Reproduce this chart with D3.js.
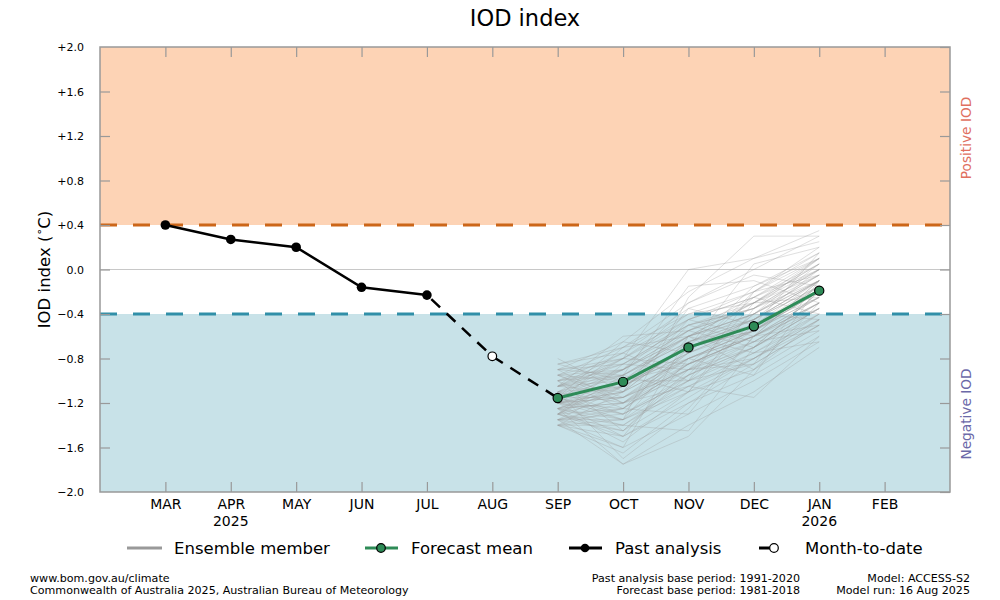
<!DOCTYPE html>
<html><head><meta charset="utf-8">
<script src="https://cdn.jsdelivr.net/npm/d3@7"></script>
<style>body{margin:0;background:#fff}svg{font-family:"DejaVu Sans",sans-serif}</style>
</head><body><svg id="c" width="1000" height="600"></svg>
<script>
// month slots: index 0 = FEB 2025 ... 13 = MAR 2026
const monthLabels = ["MAR","APR","MAY","JUN","JUL","AUG","SEP","OCT","NOV","DEC","JAN","FEB"];
const monthIdx = [1,2,3,4,5,6,7,8,9,10,11,12];
const yearLabels = [{i:2, t:"2025"},{i:11, t:"2026"}];
const yTicks = [2.0,1.6,1.2,0.8,0.4,0.0,-0.4,-0.8,-1.2,-1.6,-2.0];

const pastIdx = [1,2,3,4,5];
const pastVals = [0.40,0.27,0.20,-0.16,-0.23];
const mtdIdx = 6;
const mtdVal = -0.78;
const fcIdx = [7,8,9,10,11];
const fcVals = [-1.155,-1.01,-0.70,-0.51,-0.19];

const ensemble = [
[-1.05,-0.90,-0.55,-0.30,0.05],[-1.20,-1.10,-0.80,-0.60,-0.30],[-0.85,-0.70,-0.30,0.00,0.30],
[-1.35,-1.45,-1.10,-0.90,-0.55],[-1.10,-0.95,-0.60,-0.45,-0.10],[-1.25,-1.20,-0.95,-0.70,-0.40],
[-0.95,-0.80,-0.40,-0.20,0.10],[-1.40,-1.60,-1.30,-1.00,-0.65],[-1.15,-1.00,-0.70,-0.55,-0.20],
[-1.30,-1.25,-0.85,-0.60,-0.25],[-0.90,-0.65,-0.20,0.10,0.35],[-1.20,-1.30,-1.00,-0.75,-0.45],
[-1.05,-0.85,-0.50,-0.35,-0.05],[-1.30,-1.50,-1.20,-0.85,-0.50],[-1.10,-1.05,-0.75,-0.50,-0.15],
[-1.00,-0.75,-0.35,-0.15,0.15],[-1.35,-1.35,-0.95,-0.65,-0.30],[-1.20,-1.15,-0.90,-0.70,-0.35],
[-0.95,-0.90,-0.60,-0.40,-0.05],[-1.25,-1.75,-1.40,-1.10,-0.70],[-1.15,-0.95,-0.65,-0.40,-0.10],
[-1.05,-1.00,-0.80,-0.55,-0.25],[-1.40,-1.40,-1.05,-0.80,-0.45],[-0.85,-0.75,-0.45,-0.25,0.00],
[-1.20,-1.05,-0.70,-0.45,-0.15],[-1.30,-1.15,-0.75,-0.55,-0.20],[-1.10,-1.20,-0.90,-0.65,-0.35],
[-1.00,-0.85,-0.55,-0.35,-0.10],[-1.35,-1.30,-1.00,-0.70,-0.35],[-1.15,-0.90,-0.45,-0.25,0.10],
[-1.25,-1.10,-0.65,-0.50,-0.20],[-0.95,-0.70,-0.40,-0.30,0.05],[-1.20,-1.25,-0.85,-0.60,-0.30],
[-1.40,-1.50,-1.15,-0.80,-0.40],[-1.05,-1.10,-0.80,-0.60,-0.25],[-1.30,-1.00,-0.60,-0.40,-0.05],
[-1.10,-0.80,0.00,0.10,0.25],[-1.20,-1.35,-1.05,-0.75,-0.40],[-0.90,-0.85,-0.50,-0.30,-0.05],
[-1.25,-1.20,-0.80,-0.55,-0.15],[-1.15,-1.05,-0.70,-0.50,-0.20],[-1.35,-1.25,-0.90,-0.55,-0.15],
[-1.00,-0.95,-0.65,-0.45,-0.10],[-1.20,-1.00,-0.55,-0.35,0.00],[-1.30,-1.40,-1.00,-0.85,-0.50],
[-1.05,-0.80,-0.45,-0.20,0.20],[-1.15,-1.15,-0.85,-0.65,-0.30],[-1.25,-1.05,-0.75,-0.50,-0.10],
[-0.95,-1.00,-0.70,-0.55,-0.20],[-1.40,-1.65,-1.20,-0.95,-0.60],[-1.10,-0.90,-0.60,-0.40,-0.10],
[-1.20,-1.10,-0.65,-0.45,-0.15],[-1.35,-1.20,-0.85,-0.60,-0.30],[-1.00,-0.90,-0.55,-0.25,0.05],
[-1.15,-1.30,-0.95,-0.70,-0.35],[-1.30,-1.05,-0.70,-0.45,-0.10],[-0.90,-0.80,-0.50,-0.35,0.00],
[-1.25,-1.35,-1.10,-0.80,-0.45],[-1.05,-0.95,-0.60,-0.30,0.10],[-1.20,-1.15,-0.80,-0.55,-0.25],
[-1.00,-1.45,-0.90,-0.40,0.05],[-1.30,-0.85,-0.90,-0.80,-0.50],[-0.80,-1.10,-0.45,-0.60,-0.10],
[-1.35,-1.60,-0.60,-0.30,0.00],[-1.15,-0.65,-0.75,-0.25,-0.40],[-1.25,-1.40,-1.45,-0.70,-0.20],
[-0.95,-1.20,-1.05,-1.15,-0.60],[-1.40,-1.10,-0.35,-0.50,-0.25],[-1.05,-0.75,-1.00,-0.20,0.15],
[-1.20,-1.50,-0.80,-0.95,-0.15],[-0.90,-0.95,-0.15,-0.10,-0.30],[-1.30,-0.95,-1.10,-0.35,0.10],
[-1.10,-1.70,-1.25,-0.60,-0.35],[-1.35,-1.05,-0.50,-0.65,-0.55],[-1.00,-1.25,-0.70,0.05,0.20],
[-1.20,-0.70,-0.60,-0.90,-0.45],[-1.25,-1.55,-1.10,-0.45,0.00],[-0.85,-1.00,-0.85,-0.40,-0.45],
[-1.15,-1.35,-0.25,0.30,0.30],[-1.40,-1.25,-1.30,-0.60,-0.10],[-1.05,-0.60,-0.55,-0.70,-0.20],
[-1.30,-1.45,-0.95,-0.30,-0.25],[-0.95,-1.15,-0.90,-0.85,-0.10],[-1.20,-0.90,-0.30,-0.05,-0.15],
[-1.35,-1.75,-1.50,-0.90,-0.30],[-1.10,-1.30,-0.60,-0.75,-0.65],[-1.25,-1.00,-1.00,-0.50,0.15],
[-0.90,-1.20,-0.75,-0.20,-0.05],[-1.15,-0.80,-0.85,-0.60,-0.50],[-1.40,-1.35,-0.70,-0.15,0.10]
];

const svg = d3.select("#c");
const L=100,R=950,T=47,B=492;
const x = d3.scaleLinear().domain([0,13]).range([L,R]);
const y = d3.scaleLinear().domain([-2,2]).range([B,T]);

// bands
svg.append("rect").attr("x",L).attr("y",y(2)).attr("width",R-L).attr("height",y(0.4)-y(2)).attr("fill","#fdd3b5");
svg.append("rect").attr("x",L).attr("y",y(-0.4)).attr("width",R-L).attr("height",y(-2)-y(-0.4)).attr("fill","#c8e2e8");
// zero line
svg.append("line").attr("x1",L).attr("x2",R).attr("y1",y(0)).attr("y2",y(0)).attr("stroke","#c8c8c8").attr("stroke-width",1.2);

// ensemble
const line = d3.line().x(d=>x(d[0])).y(d=>y(d[1]));
svg.append("g").selectAll("path").data(ensemble).join("path")
  .attr("d",d=>line(d.map((v,i)=>[fcIdx[i],v])))
  .attr("fill","none").attr("stroke","#9a9a9a").attr("stroke-opacity",0.32).attr("stroke-width",1);

// thresholds
svg.append("line").attr("x1",L).attr("x2",R).attr("y1",y(0.4)).attr("y2",y(0.4)).attr("stroke","#cc6619").attr("stroke-width",3).attr("stroke-dasharray","17,16");
svg.append("line").attr("x1",L).attr("x2",R).attr("y1",y(-0.4)).attr("y2",y(-0.4)).attr("stroke","#318fa8").attr("stroke-width",3).attr("stroke-dasharray","17,16");

// frame
svg.append("rect").attr("x",L).attr("y",T).attr("width",R-L).attr("height",B-T).attr("fill","none").attr("stroke","#999").attr("stroke-width",1.5);

// axes via d3
const xAxisB = d3.axisBottom(x).tickValues(monthIdx).tickSize(-10).tickFormat((d,i)=>monthLabels[i]).tickPadding(14);
const gxb = svg.append("g").attr("transform",`translate(0,${B})`).call(xAxisB);
const xAxisT = d3.axisTop(x).tickValues(monthIdx).tickSize(-10).tickFormat("");
const gxt = svg.append("g").attr("transform",`translate(0,${T})`).call(xAxisT);
const fmt = d=> d===0 ? "0.0" : (d>0?"+":"\u2212")+Math.abs(d).toFixed(1);
const yAxisL = d3.axisLeft(y).tickValues(yTicks).tickSize(-10).tickFormat(fmt).tickPadding(16);
const gyl = svg.append("g").attr("transform",`translate(${L},0)`).call(yAxisL);
const yAxisR = d3.axisRight(y).tickValues(yTicks).tickSize(-10).tickFormat("");
const gyr = svg.append("g").attr("transform",`translate(${R},0)`).call(yAxisR);
[gxb,gxt,gyl,gyr].forEach(g=>{
  g.select(".domain").remove();
  g.selectAll(".tick line").attr("stroke","#999").attr("stroke-width",1.2);
  g.selectAll("text").attr("fill","#000").attr("font-family","DejaVu Sans");
});
gxb.selectAll("text").attr("font-size",14).attr("dy","0.2em");
gyl.selectAll("text").attr("font-size",11);
gyl.selectAll(".tick").filter(d=>d===2||d===-2).select("line").remove();

svg.selectAll(".yr").data(yearLabels).join("text").attr("x",d=>x(d.i)).attr("y",526)
  .attr("text-anchor","middle").attr("font-size",14).text(d=>d.t);

// past analysis
const pastPts = pastIdx.map((i,k)=>[i,pastVals[k]]);
svg.append("path").attr("d",line(pastPts)).attr("fill","none").attr("stroke","#000").attr("stroke-width",2.5);
// dashed link
const dashPts = [[pastIdx[4],pastVals[4]],[mtdIdx,mtdVal],[fcIdx[0],fcVals[0]]];
svg.append("path").attr("d",line(dashPts)).attr("fill","none").attr("stroke","#000").attr("stroke-width",2.5).attr("stroke-dasharray","12,9").attr("stroke-dashoffset",-6);
svg.selectAll(".pp").data(pastPts).join("circle").attr("cx",d=>x(d[0])).attr("cy",d=>y(d[1])).attr("r",4.8).attr("fill","#000");
svg.append("circle").attr("cx",x(mtdIdx)).attr("cy",y(mtdVal)).attr("r",4.3).attr("fill","#fff").attr("stroke","#000").attr("stroke-width",1.2);

// forecast mean
const fcPts = fcIdx.map((i,k)=>[i,fcVals[k]]);
svg.append("path").attr("d",line(fcPts)).attr("fill","none").attr("stroke","#2e8b57").attr("stroke-width",3);
svg.selectAll(".fp").data(fcPts).join("circle").attr("cx",d=>x(d[0])).attr("cy",d=>y(d[1])).attr("r",4.6)
  .attr("fill","#2e8b57").attr("stroke","#000").attr("stroke-width",1.2);

// title & labels
svg.append("text").attr("x",525).attr("y",26).attr("text-anchor","middle").attr("font-size",22.5).text("IOD index");
const yl = svg.append("text").attr("transform",`translate(50,${(T+B)/2}) rotate(-90)`).attr("text-anchor","middle").attr("font-size",16.5);
yl.append("tspan").text("IOD index (");
yl.append("tspan").attr("font-size",11).attr("dy",-7).text("\u2218");
yl.append("tspan").attr("dy",7).text("C)");
svg.append("text").attr("transform",`translate(971,138) rotate(-90)`).attr("text-anchor","middle").attr("font-size",13.7).attr("fill","#e0705f").text("Positive IOD");
svg.append("text").attr("transform",`translate(971,414) rotate(-90)`).attr("text-anchor","middle").attr("font-size",13.7).attr("fill","#6b68a8").text("Negative IOD");

// legend
const ly=548;
const lg = svg.append("g").attr("font-size",16.5);
lg.append("line").attr("x1",127).attr("x2",162).attr("y1",ly).attr("y2",ly).attr("stroke","#999").attr("stroke-width",3);
lg.append("text").attr("x",174).attr("y",ly+6).text("Ensemble member");
lg.append("line").attr("x1",365).attr("x2",398).attr("y1",ly).attr("y2",ly).attr("stroke","#2e8b57").attr("stroke-width",3);
lg.append("circle").attr("cx",381).attr("cy",ly).attr("r",4.3).attr("fill","#2e8b57").attr("stroke","#000").attr("stroke-width",1.2);
lg.append("text").attr("x",411).attr("y",ly+6).text("Forecast mean");
lg.append("line").attr("x1",569).attr("x2",602).attr("y1",ly).attr("y2",ly).attr("stroke","#000").attr("stroke-width",3);
lg.append("circle").attr("cx",585).attr("cy",ly).attr("r",4.3).attr("fill","#000");
lg.append("text").attr("x",615).attr("y",ly+6).text("Past analysis");
lg.append("line").attr("x1",759).attr("x2",772).attr("y1",ly).attr("y2",ly).attr("stroke","#000").attr("stroke-width",3);
lg.append("circle").attr("cx",774).attr("cy",ly).attr("r",4.3).attr("fill","#fff").attr("stroke","#000").attr("stroke-width",1.2);
lg.append("text").attr("x",805).attr("y",ly+6).text("Month-to-date");

// footer
const ft = svg.append("g").attr("font-size",11.1);
ft.append("text").attr("x",30).attr("y",582).text("www.bom.gov.au/climate");
ft.append("text").attr("x",30).attr("y",594).text("Commonwealth of Australia 2025, Australian Bureau of Meteorology");
ft.append("text").attr("x",800).attr("y",582).attr("text-anchor","end").text("Past analysis base period: 1991-2020");
ft.append("text").attr("x",800).attr("y",594).attr("text-anchor","end").text("Forecast base period: 1981-2018");
ft.append("text").attr("x",970).attr("y",582).attr("text-anchor","end").text("Model: ACCESS-S2");
ft.append("text").attr("x",970).attr("y",594).attr("text-anchor","end").text("Model run: 16 Aug 2025");
</script></body></html>
